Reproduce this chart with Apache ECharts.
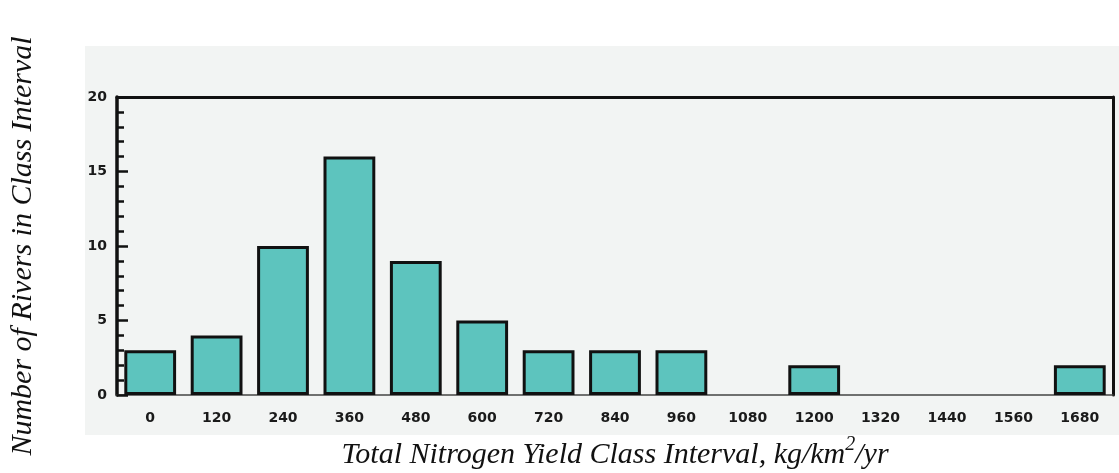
<!DOCTYPE html>
<html>
<head>
<meta charset="utf-8">
<script src="https://cdn.jsdelivr.net/npm/echarts@6/dist/echarts.min.js"></script>
<style>
html, body { margin: 0; padding: 0; background: #ffffff; }
#main { width: 1119px; height: 473px; }
</style>
</head>
<body>
<div id="main"></div>
<script>
// class intervals (kg/km2/yr) and number of rivers in each
var categories = ['0', '120', '240', '360', '480', '600', '720', '840', '960', '1080', '1200', '1320', '1440', '1560', '1680'];
var riverCounts = [3, 4, 10, 16, 9, 5, 3, 3, 3, 0, 2, 0, 0, 0, 2];
var yTicks = [0, 5, 10, 15, 20];

var tickFont = { fontFamily: 'DejaVu Sans', fontWeight: 'bold', fontSize: 14, color: '#1a1a1a' };

var chart = echarts.init(document.getElementById('main'));
var option = {
    animation: false,
    graphic: [
        {
            type: 'rect',
            left: 85, top: 46,
            shape: { width: 1034, height: 389 },
            style: { fill: '#f2f4f3' },
            z: -10
        }
    ],
    grid: { left: 117, right: 6, top: 97, bottom: 78, containLabel: false, outerBoundsMode: 'none' },
    xAxis: [
        {
            type: 'category',
            data: categories,
            name: 'Total Nitrogen Yield Class Interval, kg/km{sup|2}/yr',
            nameLocation: 'middle',
            nameGap: 40,
            nameTextStyle: {
                fontFamily: 'Liberation Serif', fontStyle: 'italic', fontSize: 30, color: '#111',
                rich: { sup: { fontFamily: 'Liberation Serif', fontStyle: 'italic', fontSize: 20, verticalAlign: 'bottom', padding: [0, 0, 20, 0], color: '#111' } }
            },
            axisLine: { lineStyle: { color: '#444', width: 1.5 } },
            axisTick: { show: false },
            axisLabel: Object.assign({ margin: 16, interval: 0 }, tickFont)
        },
        {
            type: 'category',
            position: 'top',
            data: categories,
            axisLine: { onZero: false, lineStyle: { color: '#111', width: 3 } },
            axisTick: { show: false },
            axisLabel: { show: false }
        }
    ],
    yAxis: [
        {
            type: 'value',
            min: yTicks[0],
            max: yTicks[yTicks.length - 1],
            interval: 5,
            name: 'Number of Rivers in Class Interval',
            nameLocation: 'middle',
            nameGap: 79,
            nameTextStyle: { fontFamily: 'Liberation Serif', fontStyle: 'italic', fontSize: 30, color: '#111' },
            axisLine: { show: true, lineStyle: { color: '#111', width: 3.5 } },
            axisTick: { show: true, inside: true, length: 11, lineStyle: { color: '#111', width: 2.5 } },
            minorTick: { show: true, splitNumber: 5, length: 7, lineStyle: { color: '#111', width: 2.5 } },
            splitLine: { show: false },
            axisLabel: Object.assign({ margin: 10 }, tickFont)
        },
        {
            type: 'value',
            position: 'right',
            min: 0,
            max: 20,
            axisLine: { show: true, onZero: false, lineStyle: { color: '#111', width: 3 } },
            axisTick: { show: false },
            axisLabel: { show: false },
            splitLine: { show: false }
        }
    ],
    series: [
        {
            type: 'bar',
            // empty classes are left blank, no flat outline
            data: riverCounts.map(function (v) { return v === 0 ? '-' : v; }),
            barCategoryGap: '22%',
            itemStyle: { color: '#5dc4be', borderColor: '#111', borderWidth: 3 }
        }
    ]
};
chart.setOption(option);
</script>
</body>
</html>
